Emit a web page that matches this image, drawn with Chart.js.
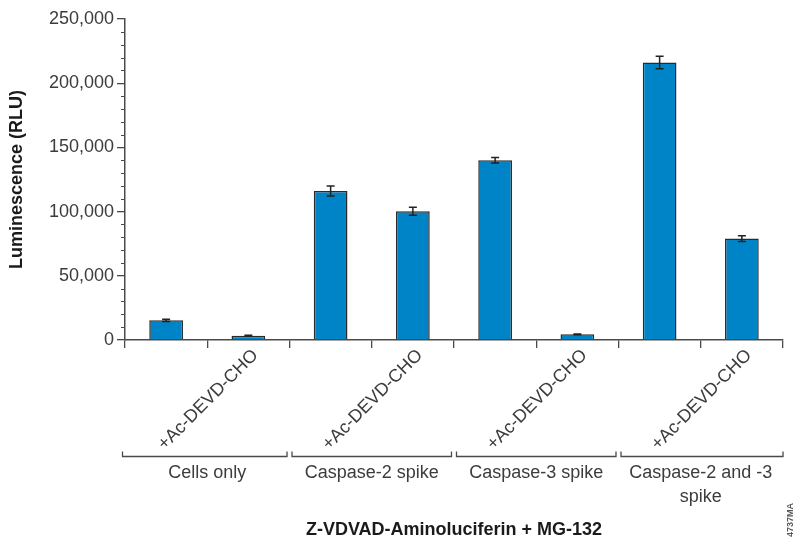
<!DOCTYPE html>
<html>
<head>
<meta charset="utf-8">
<script src="https://cdn.jsdelivr.net/npm/chart.js@4/dist/chart.umd.min.js"></script>
<style>
  html, body { margin: 0; padding: 0; background: #ffffff; }
  #wrap { width: 798px; height: 539px; position: relative; }
</style>
</head>
<body>
<div id="wrap"><canvas id="chart" width="798" height="539"></canvas></div>
<script>
// Bar categories: every second bar carries the inhibitor label
const categories = ['', '+Ac-DEVD-CHO', '', '+Ac-DEVD-CHO', '', '+Ac-DEVD-CHO', '', '+Ac-DEVD-CHO'];
// Sample groups (two bars each), multi-line names as arrays
const groupNames = [['Cells only'], ['Caspase-2 spike'], ['Caspase-3 spike'], ['Caspase-2 and -3', 'spike']];
// Mean luminescence (RLU) and standard deviation per bar
const luminescence = [15300, 3400, 116100, 100300, 140000, 4400, 216100, 79000];
const luminescenceSD = [800, 300, 3900, 3100, 2200, 300, 4900, 2200];
// Axis range and tick steps
const yRange = [0, 250000];
const yMajorStep = 50000;
const yMinorStep = 10000;
const yTitle = 'Luminescence (RLU)';
const xTitle = 'Z-VDVAD-Aminoluciferin + MG-132';
const figureId = '4737MA';

// Pick a condensed bold face for axis titles when one is installed
function fontInstalled(name) {
  const ctx = document.createElement('canvas').getContext('2d');
  const probe = 'Aminoluciferin MG-132 Wx';
  ctx.font = 'bold 40px monospace';
  const a = ctx.measureText(probe).width;
  ctx.font = 'bold 40px "' + name + '", monospace';
  const b = ctx.measureText(probe).width;
  return Math.abs(a - b) > 0.5;
}
const hasNarrow = fontInstalled('Liberation Sans Narrow');
const titleFont = hasNarrow
  ? { family: '"Liberation Sans Narrow", "Liberation Sans", Arial, sans-serif', size: 21, weight: 'bold' }
  : { family: '"Liberation Sans", Arial, sans-serif', size: 18, weight: 'bold' };

const BODY_FAMILY = '"Liberation Sans", Arial, Helvetica, sans-serif';
const TEXT_COLOR = '#3c3c3c';
const AXIS_COLOR = '#4a4a4a';

// Error bars drawn from the data through the y scale
const errorBars = {
  id: 'errorBars',
  afterDatasetsDraw(chart) {
    const { ctx, scales: { y } } = chart;
    const meta = chart.getDatasetMeta(0);
    ctx.save();
    ctx.strokeStyle = '#222222';
    ctx.lineWidth = 1.5;
    meta.data.forEach((bar, i) => {
      const v = luminescence[i], e = luminescenceSD[i];
      const yHi = y.getPixelForValue(v + e);
      const yLo = y.getPixelForValue(v - e);
      const cap = 4;
      ctx.beginPath();
      ctx.moveTo(bar.x, yHi); ctx.lineTo(bar.x, yLo);
      ctx.moveTo(bar.x - cap, yHi); ctx.lineTo(bar.x + cap, yHi);
      ctx.moveTo(bar.x - cap, yLo); ctx.lineTo(bar.x + cap, yLo);
      ctx.stroke();
    });
    ctx.restore();
  }
};

// Minor ticks on the value axis
const minorTicks = {
  id: 'minorTicks',
  afterDraw(chart) {
    const { ctx, scales: { y } } = chart;
    const x0 = chart.chartArea.left;
    ctx.save();
    ctx.strokeStyle = AXIS_COLOR;
    ctx.lineWidth = 1;
    for (let v = yRange[0] + yMinorStep; v < yRange[1]; v += yMinorStep) {
      if (v % yMajorStep === 0) continue;
      const py = Math.round(y.getPixelForValue(v)) + 0.5;
      ctx.beginPath();
      ctx.moveTo(x0 - 4, py); ctx.lineTo(x0, py);
      ctx.stroke();
    }
    ctx.restore();
  }
};

// Group brackets and group names under the category labels
const groupBrackets = {
  id: 'groupBrackets',
  afterDraw(chart) {
    const { ctx, scales: { x } } = chart;
    const half = (x.getPixelForValue(1) - x.getPixelForValue(0)) / 2;
    const yLine = 456.5;
    ctx.save();
    ctx.strokeStyle = AXIS_COLOR;
    ctx.lineWidth = 1.3;
    ctx.fillStyle = TEXT_COLOR;
    ctx.font = '18px ' + BODY_FAMILY;
    ctx.textAlign = 'center';
    ctx.textBaseline = 'middle';
    groupNames.forEach((lines, g) => {
      let left = x.getPixelForValue(2 * g) - half + 2.5;
      let right = x.getPixelForValue(2 * g + 1) + half - 2.5;
      if (g === 0) left -= 5;
      if (g === groupNames.length - 1) right += 2.5;
      ctx.beginPath();
      ctx.moveTo(left, yLine - 5); ctx.lineTo(left, yLine);
      ctx.lineTo(right, yLine); ctx.lineTo(right, yLine - 5);
      ctx.stroke();
      const cx = (x.getPixelForValue(2 * g) + x.getPixelForValue(2 * g + 1)) / 2;
      lines.forEach((t, k) => ctx.fillText(t, cx, 473 + k * 24));
    });
    // figure reference code along the right edge
    ctx.save();
    ctx.translate(791, 537);
    ctx.rotate(-Math.PI / 2);
    ctx.font = 'bold 9px ' + BODY_FAMILY;
    ctx.fillStyle = '#555555';
    ctx.textAlign = 'left';
    ctx.fillText(figureId, 0, 0);
    ctx.restore();
    ctx.restore();
  }
};

new Chart(document.getElementById('chart'), {
  type: 'bar',
  data: {
    labels: categories,
    datasets: [{
      data: luminescence,
      backgroundColor: '#0084c8',
      borderColor: '#2b2b2b',
      borderWidth: 1.5,
      borderSkipped: 'bottom',
      categoryPercentage: 1,
      barPercentage: 0.41
    }]
  },
  options: {
    responsive: false,
    devicePixelRatio: 1,
    animation: false,
    layout: { padding: { top: 19, right: 15, bottom: 0, left: 0 } },
    plugins: { legend: { display: false }, tooltip: { enabled: false } },
    scales: {
      x: {
        offset: true,
        grid: { display: true, offset: true, drawOnChartArea: false, tickLength: 8, color: AXIS_COLOR, lineWidth: 1.3 },
        border: { display: true, color: AXIS_COLOR, width: 1.5 },
        ticks: {
          autoSkip: false, minRotation: 45, maxRotation: 45, padding: -3, labelOffset: 7,
          color: TEXT_COLOR, font: { family: BODY_FAMILY, size: 18 }
        },
        title: {
          display: true, text: xTitle, color: '#1a1a1a',
          font: Object.assign({ lineHeight: 1 }, titleFont),
          padding: { top: 0, bottom: 0 }
        },
        afterFit(scale) { scale.height = 539 - 340; }
      },
      y: {
        min: yRange[0], max: yRange[1],
        grid: { display: true, drawOnChartArea: false, tickLength: 8, color: AXIS_COLOR, lineWidth: 1.3 },
        border: { display: true, color: AXIS_COLOR, width: 1.5 },
        ticks: {
          stepSize: yMajorStep, padding: 3, color: TEXT_COLOR,
          font: { family: BODY_FAMILY, size: 18 },
          callback: v => v.toLocaleString('en-US')
        },
        title: {
          display: true, text: yTitle, color: '#1a1a1a',
          font: Object.assign({ lineHeight: 1 }, titleFont),
          padding: { top: 8, bottom: 0 }
        },
        afterFit(scale) { scale.width = 125; }
      }
    }
  },
  plugins: [errorBars, minorTicks, groupBrackets]
});
</script>
</body>
</html>
